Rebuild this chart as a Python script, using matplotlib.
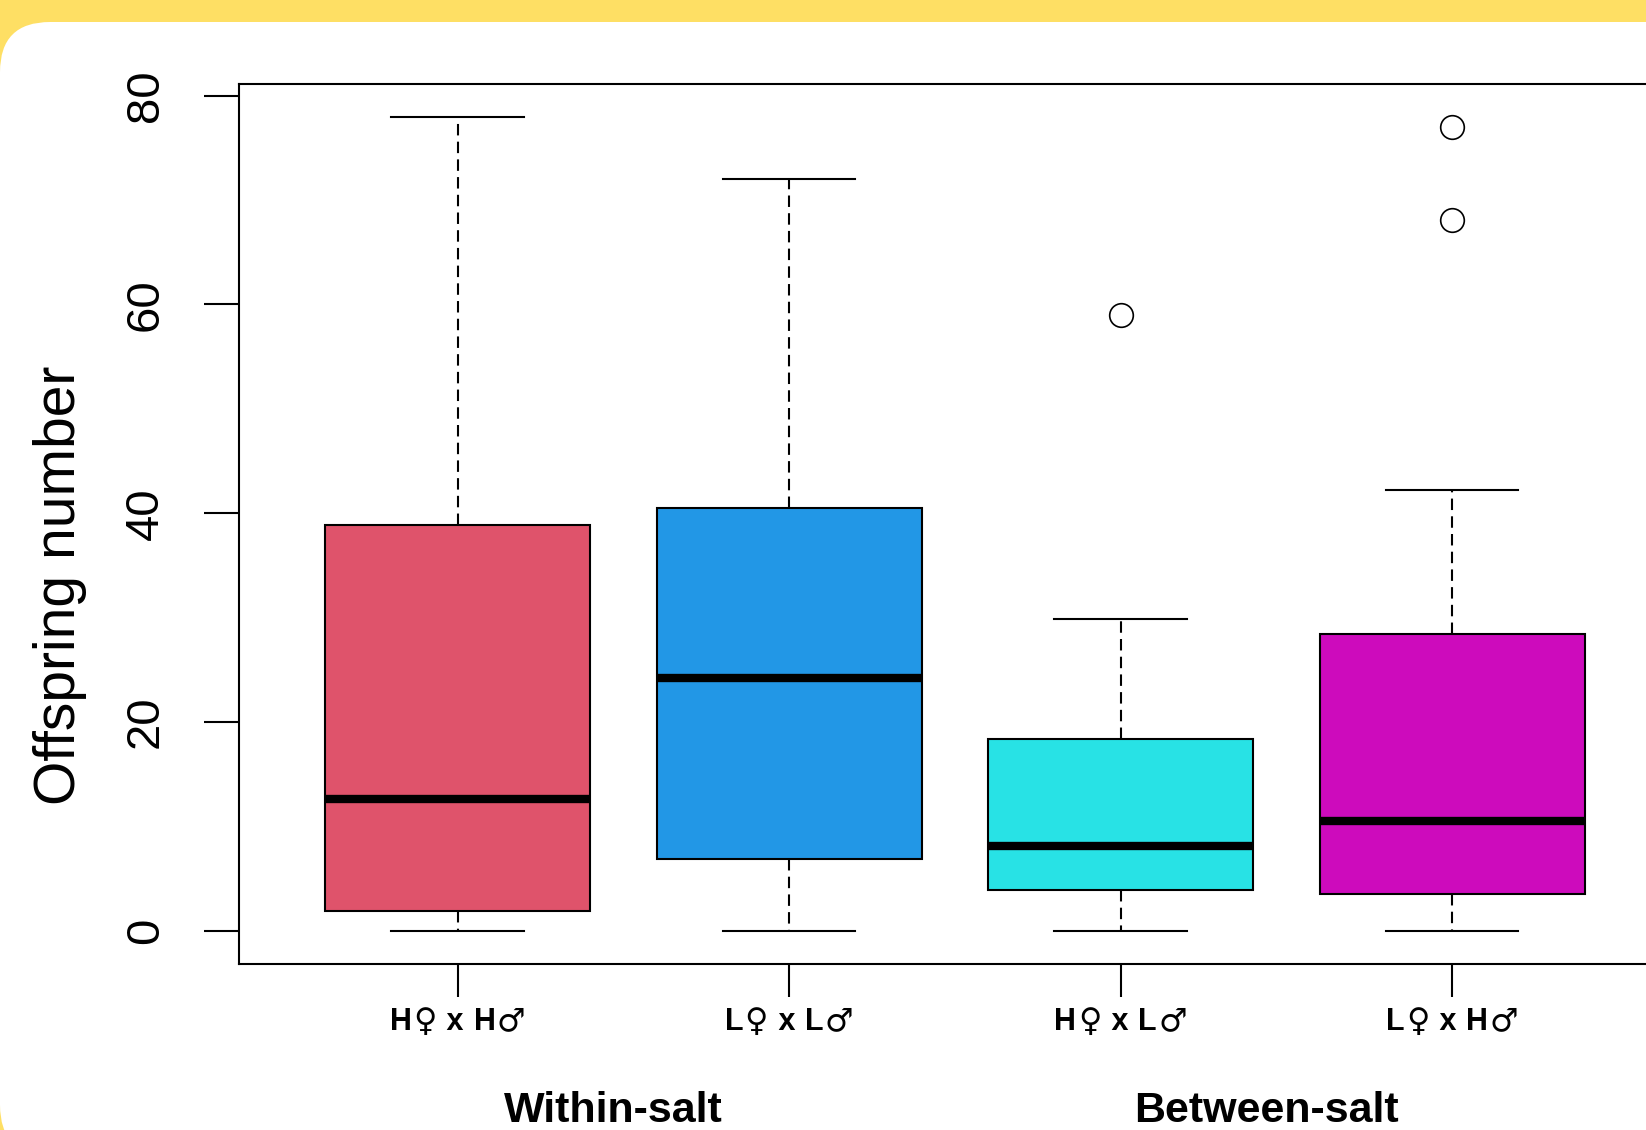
import matplotlib.pyplot as plt
import matplotlib.patches as mpatches
from matplotlib.transforms import IdentityTransform, blended_transform_factory
from matplotlib.offsetbox import HPacker, TextArea, AnnotationBbox

# box statistics
groups = ["H♀ x H♂", "L♀ x L♂", "H♀ x L♂", "L♀ x H♂"]
whislo = [0, 0, 0, 0]
q1 = [1.9, 6.9, 3.9, 3.5]
med = [12.6, 24.2, 8.1, 10.5]
q3 = [38.9, 40.5, 18.4, 28.4]
whishi = [78.0, 72.0, 29.9, 42.2]
fliers = [[], [], [59.0], [77.0, 68.1]]
colors = ["#DF536B", "#2297E6", "#28E2E5", "#CD0BBC"]

yticks = [0, 20, 40, 60, 80]
group_names = ["Within-salt", "Between-salt"]
group_x = [1.47, 3.44]

plt.rcParams['font.family'] = ['Liberation Sans', 'DejaVu Sans']

fig = plt.figure(figsize=(16.46, 11.30), dpi=100, facecolor="#FEDF64")

# white rounded card on the yellow background
card = mpatches.FancyBboxPatch((0, -25), 1900, 1133,
                               boxstyle="round,pad=0,rounding_size=50",
                               transform=IdentityTransform(),
                               facecolor="white", edgecolor="none", zorder=0)
fig.add_artist(card)

ax = fig.add_axes([0.1452, 0.1473, 0.8699, 0.7784])
ax.set_facecolor("white")

stats = []
for i in range(len(groups)):
    stats.append(dict(whislo=whislo[i], q1=q1[i], med=med[i], q3=q3[i],
                      whishi=whishi[i], fliers=fliers[i]))

pos = list(range(1, len(groups) + 1))
bp = ax.bxp(stats, positions=pos, widths=0.8, capwidths=0.4, patch_artist=True,
            showfliers=True,
            boxprops=dict(linewidth=1.5, edgecolor="black"),
            medianprops=dict(color="black", linewidth=6, solid_capstyle="butt"),
            whiskerprops=dict(color="black", linewidth=1.5, linestyle=(0, (5.5, 3))),
            capprops=dict(color="black", linewidth=1.5),
            flierprops=dict(marker="o", markersize=17, markerfacecolor="none",
                            markeredgecolor="black", markeredgewidth=1.2))
for patch, c in zip(bp["boxes"], colors):
    patch.set_facecolor(c)

lo, hi = min(whislo), max(max(whishi), max(max(f) for f in fliers if f))
rng = hi - lo
ax.set_ylim(lo - 0.04 * rng, hi + 0.04 * rng)
ax.set_xlim(0.5 - 0.04 * 4, 4.5 + 0.04 * 4)

for s in ax.spines.values():
    s.set_linewidth(1.5)

ax.set_yticks(yticks)
ax.set_yticklabels([str(v) for v in yticks], rotation=90, va="center", ha="center",
                   fontsize=34)
ax.tick_params(axis="y", length=25, width=1.5, pad=42)

ax.set_xticks(pos)
ax.set_xticklabels([])
ax.tick_params(axis="x", length=24, width=1.5)

# x labels: letters in Liberation Sans, the sex signs in DejaVu Sans
letter_props = dict(fontsize=22, fontweight="bold", family="Liberation Sans")
sign_props = dict(fontsize=23, fontweight="bold", family="DejaVu Sans")
trans = blended_transform_factory(ax.transData, fig.transFigure)
for p, lab in zip(pos, groups):
    parts = []
    for ch in lab:
        if ch in "♀♂":
            parts.append(TextArea(ch, textprops=sign_props))
        elif ch == "x":
            parts.append(TextArea(" x ", textprops=letter_props))
        elif ch != " ":
            parts.append(TextArea(ch, textprops=letter_props))
    box = HPacker(children=parts, sep=1, align="baseline", pad=0)
    ab = AnnotationBbox(box, (p, 1 - 1022 / 1130), xycoords=trans,
                        frameon=False, box_alignment=(0.5, 0.5), annotation_clip=False)
    ax.add_artist(ab)

for name, gx in zip(group_names, group_x):
    ax.text(gx, 1 - 1111 / 1130, name, transform=trans, ha="center", va="center",
            fontsize=31, fontweight="bold", clip_on=False)

fig.text(60 / 1646, 1 - 585 / 1130, "Offspring number", rotation=90,
         ha="center", va="center", fontsize=41)

fig.savefig("out.png", dpi=100, facecolor=fig.get_facecolor())
